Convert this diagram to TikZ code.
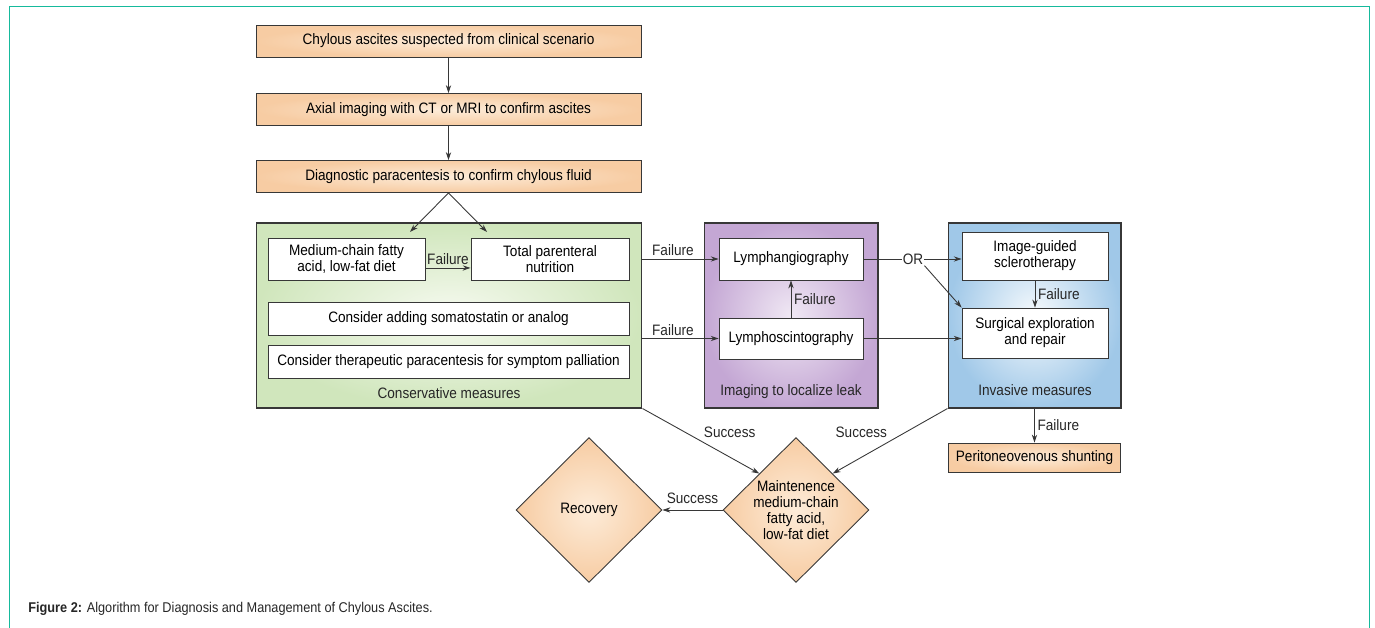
\documentclass[tikz,border=0pt]{standalone}
\usepackage{fontspec}
\setmainfont{Liberation Sans}[FakeStretch=0.9]
\usetikzlibrary{shapes.geometric,arrows.meta}

\definecolor{frameteal}{RGB}{22,186,156}
\definecolor{linegray}{RGB}{55,55,55}
\definecolor{peach}{RGB}{247,204,163}
\definecolor{peachlight}{RGB}{253,236,217}
\definecolor{greenpanel}{RGB}{208,230,188}
\definecolor{greenlight}{RGB}{246,250,240}
\definecolor{purplepanel}{RGB}{196,167,212}
\definecolor{purplelight}{RGB}{240,232,244}
\definecolor{bluepanel}{RGB}{160,200,232}
\definecolor{bluelight}{RGB}{246,250,253}

\def\toplist{{(448.5,41)/top1/Chylous ascites suspected from clinical scenario},
  {(448.5,109.5)/top2/Axial imaging with CT or MRI to confirm ascites},
  {(448.5,176.5)/top3/Diagnostic paracentesis to confirm chylous fluid}}
\def\topcon{top1/top2, top2/top3, top3.south/mcd-in, top3.south/tpn-in}

\tikzstyle{peach-box}=[draw=linegray, line width=0.5pt, inner color=peachlight, outer color=peach, minimum width=7.7cm, minimum height=0.64cm, inner sep=1pt]
\tikzstyle{white-box}=[draw=linegray, line width=0.5pt, fill=white, inner sep=1pt, align=center]
\tikzstyle{panel}=[draw=linegray, line width=0.6pt, minimum height=3.7cm, inner sep=0pt]
\tikzstyle{decision}=[diamond, aspect=1, draw=linegray, line width=0.5pt, inner color=peachlight, outer color=peach, minimum width=2.92cm, minimum height=2.9cm, inner sep=0pt]
\tikzstyle{edge}=[draw=linegray, line width=0.5pt, -{Stealth[length=4.5pt,width=3pt]}]
\tikzstyle{plain-edge}=[draw=linegray, line width=0.5pt, -]
\tikzstyle{lbl}=[inner sep=1.5pt, text=black!85]

\begin{document}
\begin{tikzpicture}[x=0.02cm, y=-0.02cm, font=\fontsize{8.6}{9.2}\selectfont]
  % Page frame
  \useasboundingbox (0,0) rectangle (1375,628);
  \draw[frameteal, line width=0.9pt] (9.5,628) -- (9.5,6.5) -- (1369.5,6.5) -- (1369.5,628);

  % First the three steps on top
  \foreach \pos/\name/\txt in \toplist
    \node[peach-box] (\name) at \pos {\txt};

  % The three panels
  \node[panel, minimum width=7.72cm, inner color=greenlight, outer color=greenpanel] (green) at (449,315.5) {};
  \node[panel, minimum width=3.48cm, inner color=purplelight, outer color=purplepanel] (purple) at (791,315.5) {};
  \node[panel, minimum width=3.46cm, inner color=bluelight, outer color=bluepanel] (blue) at (1034.5,315.5) {};
  \node[lbl] (green-lbl) at (449,393) {Conservative measures};
  \node[lbl] (purple-lbl) at (791,392) {Imaging to localize leak};
  \node[lbl] (blue-lbl) at (1035,390) {Invasive measures};

  % Boxes inside the panels
  \node[white-box, minimum width=3.14cm, minimum height=0.84cm] (mcd) at (346.5,259) {Medium-chain fatty\\acid, low-fat diet};
  \node[white-box, minimum width=3.16cm, minimum height=0.84cm] (tpn) at (550,259) {Total parenteral\\nutrition};
  \node[white-box, minimum width=7.22cm, minimum height=0.66cm] (soma) at (448.5,318.5) {Consider adding somatostatin or analog};
  \node[white-box, minimum width=7.22cm, minimum height=0.66cm] (thera) at (448.5,361.5) {Consider therapeutic paracentesis for symptom palliation};
  \node[white-box, minimum width=2.88cm, minimum height=0.84cm] (lang) at (791,259) {Lymphangiography};
  \node[white-box, minimum width=2.88cm, minimum height=0.82cm] (lscint) at (791,338.5) {Lymphoscintography};
  \node[white-box, minimum width=2.92cm, minimum height=0.96cm] (igs) at (1035,256) {Image-guided\\sclerotherapy};
  \node[white-box, minimum width=2.92cm, minimum height=1.0cm] (surg) at (1035,333) {Surgical exploration\\and repair};
  \node[peach-box, minimum width=3.44cm, minimum height=0.58cm] (shunt) at (1034.5,457.5) {Peritoneovenous shunting};

  % The two diamonds
  \node[decision] (maint) at (796,510) {};
  \node[align=center, inner sep=0pt] (maint-txt) at (maint) {Maintenence\\medium-chain\\fatty acid,\\low-fat diet};
  \node[decision] (recov) at (589,510) {};
  \node[inner sep=0pt] (recov-txt) at (recov) {Recovery};

  \coordinate (mcd-in) at (410,232);
  \coordinate (tpn-in) at (487,232);
  \coordinate (mcd-out) at ([yshift=-5.1pt]mcd.east);

  % Connect the steps on top
  \foreach \source/\dest in \topcon
    \path[edge] (\source) -- (\dest);

  % Failure arrows
  \path[edge] (mcd-out) -- (mcd-out -| tpn.west) node[lbl, midway, above] (f1) {Failure};
  \path[edge] (green.east |- lang.west) -- (lang.west) node[lbl, pos=0.4, above] (f2) {Failure};
  \path[edge] (green.east |- lscint.west) -- (lscint.west) node[lbl, pos=0.4, above] (f3) {Failure};
  \path[edge] (lscint) -- (lang) node[lbl, midway, right] (f4) {Failure};
  \path[edge] (igs) -- (surg) node[lbl, midway, right] (f5) {Failure};
  \path[edge] (blue) -- (shunt) node[lbl, midway, right] (f6) {Failure};

  % The OR branch
  \node[lbl, inner sep=0.5pt] (or) at (913,259) {OR};
  \path[plain-edge] (lang) -- (or);
  \path[edge] (or) -- (or -| igs.west);
  \path[edge] (or.south east) -- (surg.north west);
  \path[edge] (lscint) -- (lscint -| surg.west);

  % Success arrows
  \path[edge] (green.south east) -- (maint.north west) node[lbl, midway, above right] (s1) {Success};
  \path[edge] (blue.south west) -- (maint.north east) node[lbl, midway, above left] (s2) {Success};
  \path[edge] (maint) -- (recov) node[lbl, midway, above=2pt] (s3) {Success};

  % Caption
  \node[anchor=west, inner sep=0pt, font=\fontsize{8.05}{10}\selectfont, text=black!85] (caption) at (28,609) {\textbf{Figure 2:} Algorithm for Diagnosis and Management of Chylous Ascites.};
\end{tikzpicture}
\end{document}
